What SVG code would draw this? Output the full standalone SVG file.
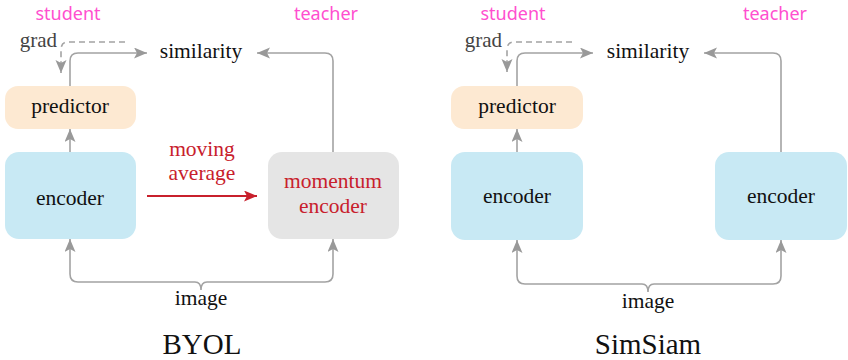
<svg xmlns="http://www.w3.org/2000/svg" width="848" height="360" viewBox="0 0 848 360">
<style>
.t{font-family:"Liberation Serif","Times New Roman",serif;font-size:21.5px;fill:#111;text-anchor:middle}
.g{font-family:"Liberation Serif","Times New Roman",serif;font-size:21px;fill:#444;text-anchor:end}
.p{font-family:"Noto Sans","Liberation Sans",sans-serif;font-size:18px;fill:#ff4fcf;text-anchor:middle}
.r{fill:#c8202c}
.ttl{font-size:29px}
.pred{fill:#fde9d2}
.enc{fill:#c8e9f4}
.mom{fill:#e5e5e5}
.c{fill:none;stroke:#a3a3a3;stroke-width:1.6}
.d{stroke-dasharray:6 4}
.red{fill:none;stroke:#c8202c;stroke-width:1.8}
</style>
<defs>
<marker id="ah" markerUnits="userSpaceOnUse" markerWidth="14" markerHeight="12" refX="13" refY="5.5" orient="auto-start-reverse">
<path d="M0,0 L13,5.5 L0,11 L3,5.5 z" fill="#999"/>
</marker>
<marker id="ahr" markerUnits="userSpaceOnUse" markerWidth="14" markerHeight="12" refX="13" refY="5.5" orient="auto">
<path d="M0,0 L13,5.5 L0,11 L3,5.5 z" fill="#c8202c"/>
</marker>
</defs>
<g id="connectors">
<path class="c" d="M70,86 V61 Q70,53 78,53 H147" marker-end="url(#ah)"/>
<path class="c" d="M333,152 V61 Q333,53 325,53 H257" marker-end="url(#ah)"/>
<path class="c" d="M70,152 V129" marker-end="url(#ah)"/>
<path class="c" d="M70,239 V274 Q70,282 78,282 H195 Q201,282 201,290 Q201,282 207,282 H325 Q333,282 333,274 V239" marker-start="url(#ah)" marker-end="url(#ah)"/>
<path class="c d" d="M125,42 H68 Q61,42 61,50 V73" marker-end="url(#ah)"/>
<path class="red" d="M147,196 H257" marker-end="url(#ahr)"/>
<path class="c" d="M517,86 V61 Q517,53 525,53 H593" marker-end="url(#ah)"/>
<path class="c" d="M781,152 V61 Q781,53 773,53 H704" marker-end="url(#ah)"/>
<path class="c" d="M517,152 V129" marker-end="url(#ah)"/>
<path class="c" d="M517,240 V276 Q517,284 525,284 H642 Q648,284 648,292 Q648,284 654,284 H773 Q781,284 781,276 V240" marker-start="url(#ah)" marker-end="url(#ah)"/>
<path class="c d" d="M572,42 H514 Q507,42 507,50 V72" marker-end="url(#ah)"/>
</g>
<g id="byol-labels">
<text class="p" x="68" y="20">student</text>
<text class="p" x="326" y="20">teacher</text>
<text class="g" x="57" y="47">grad</text>
<text class="t r" x="202" y="156">moving</text>
<text class="t r" x="202" y="180">average</text>
<text class="t" x="201" y="305">image</text>
<text class="t ttl" x="202" y="354">BYOL</text>
</g>
<g id="byol-similarity"><text class="t" x="201" y="58">similarity</text></g>
<g id="byol-predictor"><rect class="pred" x="5" y="86" width="131" height="43" rx="13"/><text class="t" x="70" y="113">predictor</text></g>
<g id="byol-encoder"><rect class="enc" x="5" y="152" width="131" height="87" rx="14"/><text class="t" x="70" y="205">encoder</text></g>
<g id="byol-momentum"><rect class="mom" x="268" y="152" width="131" height="87" rx="14"/><text class="t r" x="333" y="188">momentum</text><text class="t r" x="333" y="213">encoder</text></g>
<g id="simsiam-labels">
<text class="p" x="513" y="20">student</text>
<text class="p" x="775" y="20">teacher</text>
<text class="g" x="502" y="47">grad</text>
<text class="t" x="648" y="308">image</text>
<text class="t ttl" x="648" y="354">SimSiam</text>
</g>
<g id="simsiam-similarity"><text class="t" x="648" y="58">similarity</text></g>
<g id="simsiam-predictor"><rect class="pred" x="451" y="86" width="132" height="43" rx="13"/><text class="t" x="517" y="113">predictor</text></g>
<g id="simsiam-encoder-left"><rect class="enc" x="451" y="152" width="132" height="88" rx="14"/><text class="t" x="517" y="203">encoder</text></g>
<g id="simsiam-encoder-right"><rect class="enc" x="715" y="152" width="132" height="88" rx="14"/><text class="t" x="781" y="203">encoder</text></g>
</svg>
